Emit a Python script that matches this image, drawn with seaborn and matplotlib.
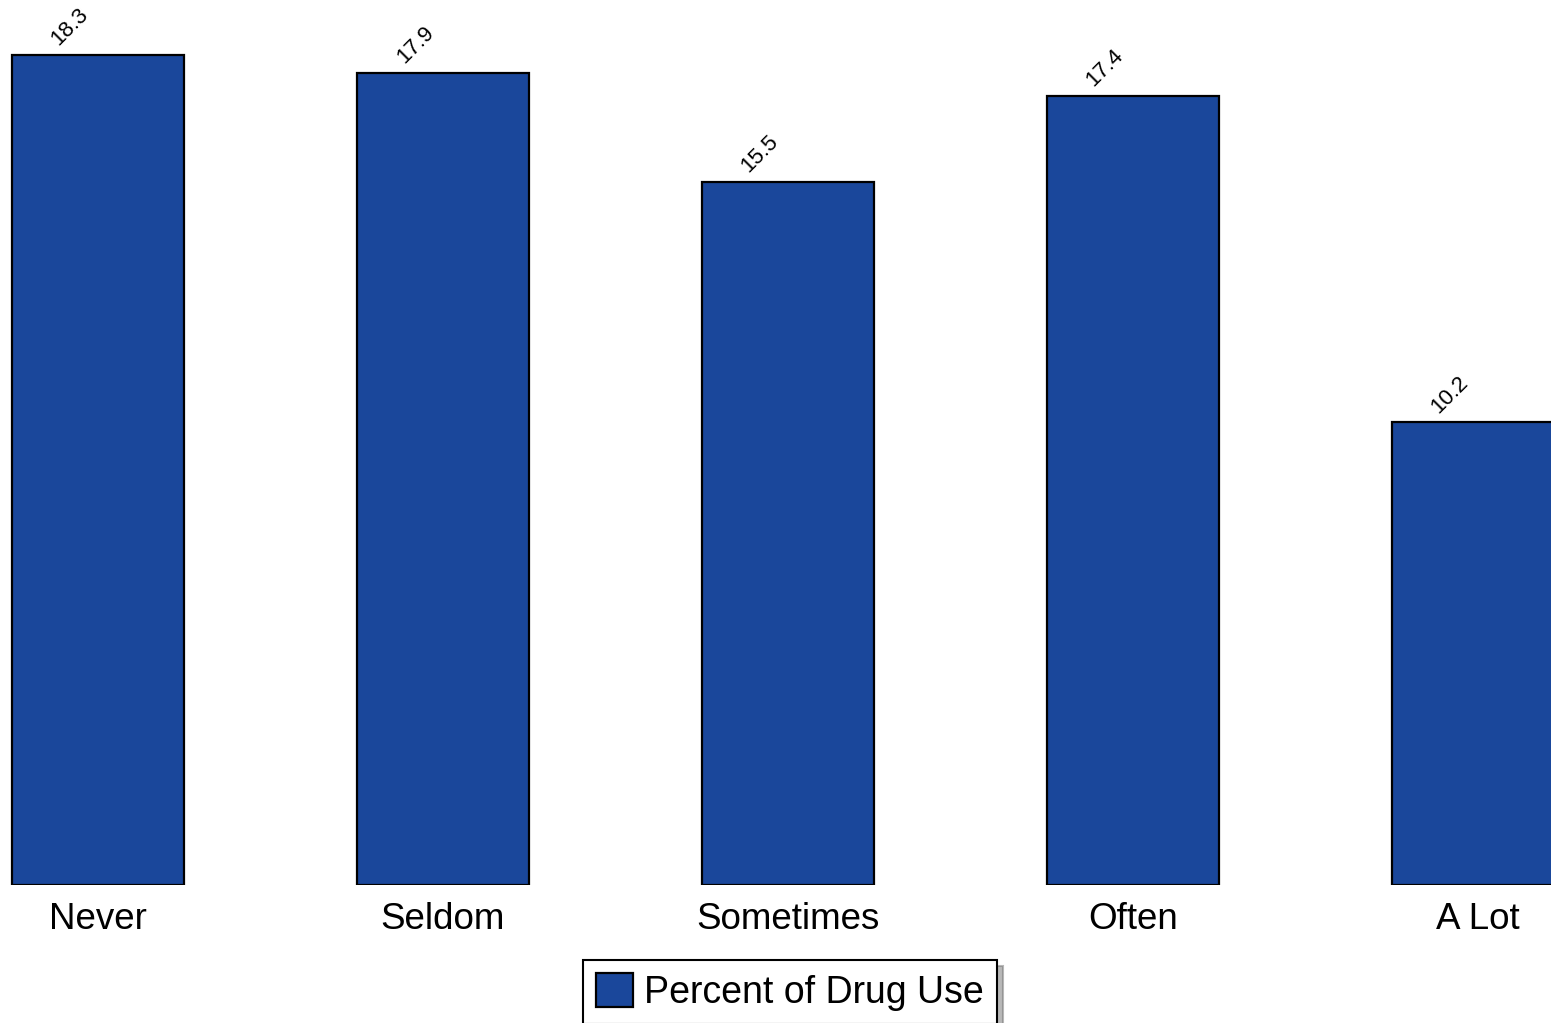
import seaborn as sns
import matplotlib.pyplot as plt

# values
categories = ['Never', 'Seldom', 'Sometimes', 'Often', 'A Lot']
percent_use = [18.3, 17.9, 15.5, 17.4, 10.2]
series_name = 'Percent of Drug Use'

sns.set_style('white')
plt.rcParams['font.family'] = ['Liberation Sans', 'DejaVu Sans']
plt.rcParams['text.color'] = 'black'
plt.rcParams['xtick.color'] = 'black'

fig = plt.figure(figsize=(15.51, 10.23), dpi=100)
ax = fig.add_axes([0, 138 / 1023, 1, 885 / 1023])

sns.barplot(x=categories, y=percent_use, color='#1a479b', saturation=1,
            width=0.5, edgecolor='black', linewidth=1.6, label=series_name, ax=ax)

# value labels, tilted
for i, v in enumerate(percent_use):
    ax.annotate(f'{v}', xy=(i, v), xytext=(-20, 20), textcoords='offset points',
                ha='center', va='center', rotation=45, rotation_mode='anchor',
                fontsize=16, color='black', annotation_clip=False)

ax.set_xlim(-0.284, 4.212)
ax.set_ylim(0, 19.51)
ax.set_yticks([])
ax.set_ylabel('')
ax.tick_params(axis='x', length=0, pad=12, labelsize=26.5, labelcolor='black')
sns.despine(ax=ax, left=True, bottom=True)

leg = ax.legend(loc='center', bbox_to_anchor=(790 / 1551, 1 - 992 / 1023),
                bbox_transform=fig.transFigure, fontsize=27, frameon=True,
                shadow={'color': '0.45', 'ox': 4, 'oy': -4}, fancybox=False,
                handlelength=1.0, handleheight=1.0,
                handletextpad=0.3, borderpad=0.35, borderaxespad=0)
leg.get_frame().set_edgecolor('black')
leg.get_frame().set_linewidth(1.5)
for t in leg.get_texts():
    t.set_color('black')

plt.savefig('out.png', dpi=100)
